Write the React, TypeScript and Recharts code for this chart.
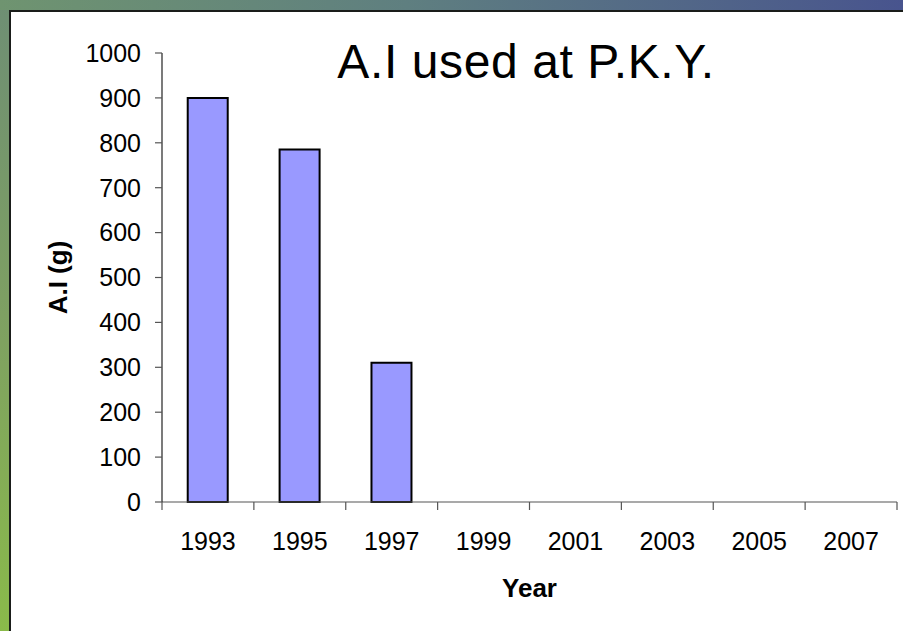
import React from 'react';
import { BarChart, Bar, XAxis, YAxis, Label } from 'recharts';

// A.I used per year (grams)
const years = ['1993', '1995', '1997', '1999', '2001', '2003', '2005', '2007'];
const aiGrams = [900, 785, 310, 0, 0, 0, 0, 0];
const yTicks = [0, 100, 200, 300, 400, 500, 600, 700, 800, 900, 1000];

const data = years.map((year, i) => ({ year, ai: aiGrams[i] }));

const FONT = '"Liberation Sans", Arial, sans-serif';

// category label in the middle, tick marks on the band edges (Excel style)
function YearTick(props: any) {
  const { x, y, payload, width, visibleTicksCount, index } = props;
  const half = width / visibleTicksCount / 2;
  const last = index === visibleTicksCount - 1;
  return (
    <g>
      <line x1={x - half} x2={x - half} y1={y} y2={y + 8} stroke="#555" strokeWidth={1.2} />
      {last && <line x1={x + half} x2={x + half} y1={y} y2={y + 8} stroke="#555" strokeWidth={1.2} />}
      <text x={x} y={y + 48} textAnchor="middle" fontSize={25} fill="#000" fontFamily={FONT}>
        {payload.value}
      </text>
    </g>
  );
}

export default function App() {
  return (
    <div
      style={{
        position: 'absolute',
        left: 0,
        top: 0,
        width: 903,
        height: 631,
        background: '#fff',
        overflow: 'hidden',
        fontFamily: FONT,
      }}
    >
      {/* slide frame */}
      <div
        style={{
          position: 'absolute',
          left: 0,
          top: 0,
          width: 10,
          height: 631,
          background: 'linear-gradient(to bottom, #6e8e74, #7ea062 50%, #8aba4a)',
        }}
      />
      <div
        style={{
          position: 'absolute',
          left: 0,
          top: 0,
          width: 903,
          height: 10,
          background: 'linear-gradient(to right, #6f9470, #5f7f80 45%, #48548e)',
        }}
      />
      <div style={{ position: 'absolute', left: 9, top: 10, width: 894, height: 2, background: '#1a1d1a' }} />
      <div style={{ position: 'absolute', left: 9, top: 10, width: 2, height: 621, background: '#1a1d1a' }} />

      <div style={{ position: 'absolute', left: 0, top: 0 }}>
        <BarChart
          width={903}
          height={631}
          data={data}
          margin={{ top: 53, right: 6, bottom: 29, left: 20 }}
          barCategoryGap="28%"
        >
          <XAxis
            dataKey="year"
            interval={0}
            height={100}
            tickSize={0}
            tickMargin={0}
            tickLine={false}
            axisLine={{ stroke: '#555', strokeWidth: 1.2 }}
            tick={<YearTick />}
          >
            <Label
              content={(p: any) => {
                const vb = p.viewBox;
                return (
                  <text
                    x={vb.x + vb.width / 2}
                    y={vb.y + 95}
                    textAnchor="middle"
                    fontSize={26}
                    fontWeight="bold"
                    fill="#000"
                    fontFamily={FONT}
                  >
                    Year
                  </text>
                );
              }}
            />
          </XAxis>
          <YAxis
            width={142}
            domain={[0, 1000]}
            ticks={yTicks}
            interval={0}
            tickSize={7}
            tickMargin={14}
            axisLine={{ stroke: '#222', strokeWidth: 1.2 }}
            tickLine={{ stroke: '#555', strokeWidth: 1.2 }}
            tick={{ fontSize: 25, fill: '#000', fontFamily: FONT }}
          >
            <Label
              content={(p: any) => {
                const vb = p.viewBox;
                const cx = vb.x + 38;
                const cy = vb.y + vb.height / 2;
                return (
                  <text
                    x={cx}
                    y={cy}
                    transform={`rotate(-90, ${cx}, ${cy})`}
                    textAnchor="middle"
                    dominantBaseline="central"
                    fontSize={26}
                    fontWeight="bold"
                    fill="#000"
                    fontFamily={FONT}
                  >
                    A.I (g)
                  </text>
                );
              }}
            />
          </YAxis>
          <Bar dataKey="ai" fill="#9999FF" stroke="#000" strokeWidth={2} isAnimationActive={false} />
        </BarChart>
      </div>

      {/* chart title */}
      <svg
        width={903}
        height={631}
        style={{ position: 'absolute', left: 0, top: 0, pointerEvents: 'none' }}
      >
        <text
          x={526}
          y={78}
          textAnchor="middle"
          fontSize={48}
          letterSpacing={0.6}
          fill="#000"
          fontFamily={FONT}
        >
          A.I used at P.K.Y.
        </text>
      </svg>
    </div>
  );
}
